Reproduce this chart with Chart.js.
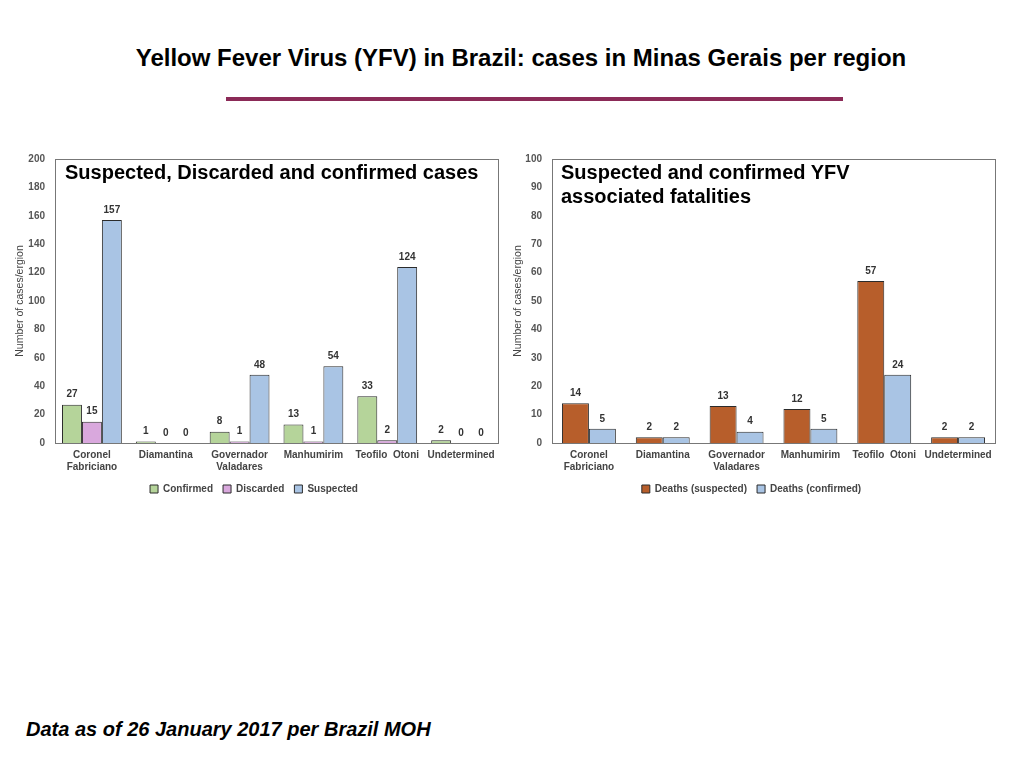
<!DOCTYPE html>
<html>
<head>
<meta charset="utf-8">
<script src="https://cdn.jsdelivr.net/npm/chart.js@4"></script>
<style>
    body { margin: 0; background: #fff; font-family: "Liberation Sans", Arial, sans-serif; }
    #page { position: relative; width: 1024px; height: 768px; overflow: hidden; }
    .abs { position: absolute; }
    #mainTitle { left: 9px; top: 44px; width: 1024px; text-align: center; font-family: "Liberation Sans Narrow", "Liberation Sans", sans-serif; font-weight: bold; font-size: 24px; line-height: 28px; color: #000; }
    #rule { left: 226px; top: 97px; width: 617px; height: 4px; background: #8b2a57; }
    .panelTitle { font-weight: bold; font-size: 20px; line-height: 24px; color: #000; }
    #footer { left: 26px; top: 717px; font-weight: bold; font-style: italic; font-size: 20px; line-height: 24px; color: #000; }
</style>
</head>
<body>
<div id="page">
    <div id="mainTitle" class="abs">Yellow Fever Virus (YFV) in Brazil: cases in Minas Gerais per region</div>
    <div id="rule" class="abs"></div>

    <canvas id="casesChart" class="abs" width="510" height="354" style="left:0; top:150px;"></canvas>
    <canvas id="deathsChart" class="abs" width="510" height="354" style="left:500px; top:150px;"></canvas>

    <div class="abs panelTitle" style="left:65px; top:160px;">Suspected, Discarded and confirmed cases</div>
    <div class="abs panelTitle" style="left:561px; top:160px;">Suspected and confirmed YFV<br>associated fatalities</div>

    <div id="footer" class="abs">Data as of 26 January 2017 per Brazil MOH</div>
</div>

<script>
// --- DATA ---
const regions = [
    ["Coronel", "Fabriciano"], "Diamantina", ["Governador", "Valadares"],
    "Manhumirim", "Teofilo  Otoni", "Undetermined"
];

const confirmedCases = [27, 1, 8, 13, 33, 2];
const discardedCases = [15, 0, 1, 1, 2, 0];
const suspectedCases = [157, 0, 48, 54, 124, 0];

const deathsSuspected = [14, 2, 13, 12, 57, 2];
const deathsConfirmed = [5, 2, 4, 5, 24, 2];

const casesTicks = { max: 200, step: 20 };
const deathsTicks = { max: 100, step: 10 };

const yAxisTitle = "Number of cases/ergion";

// --- COLOURS ---
const GREEN = '#b5d49a';
const PINK = '#d9a8dd';
const BLUE = '#a9c4e4';
const ORANGE = '#b75e2b';
const EDGE = '#2b2b2b';
const FONT = '"Liberation Sans", Arial, sans-serif';

// --- PLUGINS ---
// value labels above each bar
const valueLabels = {
    id: 'valueLabels',
    afterDatasetsDraw(chart) {
        const ctx = chart.ctx;
        ctx.save();
        ctx.font = 'bold 10px ' + FONT;
        ctx.fillStyle = '#333';
        ctx.textAlign = 'center';
        ctx.textBaseline = 'bottom';
        chart.data.datasets.forEach((ds, i) => {
            chart.getDatasetMeta(i).data.forEach((bar, j) => {
                ctx.fillText(ds.data[j], bar.x, bar.y - 5);
            });
        });
        ctx.restore();
    }
};

// grey frame round the plot area
const plotFrame = {
    id: 'plotFrame',
    beforeDatasetsDraw(chart) {
        const a = chart.chartArea;
        const ctx = chart.ctx;
        ctx.save();
        ctx.strokeStyle = '#777';
        ctx.lineWidth = 1;
        ctx.strokeRect(Math.round(a.left) + 0.5, Math.round(a.top) + 0.5,
            Math.round(a.right - a.left), Math.round(a.bottom - a.top));
        ctx.restore();
    }
};

function barSet(label, data, color, catPct) {
    return {
        label: label,
        data: data,
        backgroundColor: color,
        borderColor: EDGE,
        borderWidth: 1,
        borderSkipped: 'bottom',
        categoryPercentage: catPct,
        barPercentage: 1
    };
}

function makeOptions(ticks, pad, axisWidth) {
    return {
        responsive: false,
        animation: false,
        layout: { padding: pad },
        plugins: {
            tooltip: { enabled: false },
            legend: {
                position: 'bottom',
                labels: {
                    boxWidth: 8,
                    boxHeight: 8,
                    padding: 10,
                    color: '#444',
                    font: { family: FONT, size: 10, weight: 'bold' }
                }
            }
        },
        scales: {
            x: {
                grid: { display: false, drawTicks: false },
                border: { display: false },
                ticks: {
                    color: '#444',
                    padding: 6,
                    maxRotation: 0,
                    autoSkip: false,
                    font: { family: FONT, size: 10, weight: 'bold' }
                },
                afterFit(s) { s.height = 31; }
            },
            y: {
                min: 0,
                max: ticks.max,
                grid: { display: false, drawTicks: false },
                border: { display: false },
                ticks: {
                    stepSize: ticks.step,
                    color: '#555',
                    padding: 10,
                    font: { family: FONT, size: 10, weight: 'bold' }
                },
                title: {
                    display: true,
                    text: yAxisTitle,
                    color: '#444',
                    font: { family: FONT, size: 10.5 }
                },
                afterFit(s) {
                    s.width = axisWidth;
                    s.paddingTop = 0;
                    s.paddingBottom = 0;
                }
            }
        }
    };
}

// --- CHARTS ---
new Chart(document.getElementById('casesChart'), {
    type: 'bar',
    data: {
        labels: regions,
        datasets: [
            barSet('Confirmed', confirmedCases, GREEN, 0.81),
            barSet('Discarded', discardedCases, PINK, 0.81),
            barSet('Suspected', suspectedCases, BLUE, 0.81)
        ]
    },
    options: makeOptions(casesTicks, { top: 9, right: 12, left: 10, bottom: 0 }, 45),
    plugins: [plotFrame, valueLabels]
});

new Chart(document.getElementById('deathsChart'), {
    type: 'bar',
    data: {
        labels: regions,
        datasets: [
            barSet('Deaths (suspected)', deathsSuspected, ORANGE, 0.73),
            barSet('Deaths (confirmed)', deathsConfirmed, BLUE, 0.73)
        ]
    },
    options: makeOptions(deathsTicks, { top: 9, right: 15, left: 8, bottom: 0 }, 44),
    plugins: [plotFrame, valueLabels]
});
</script>
</body>
</html>
